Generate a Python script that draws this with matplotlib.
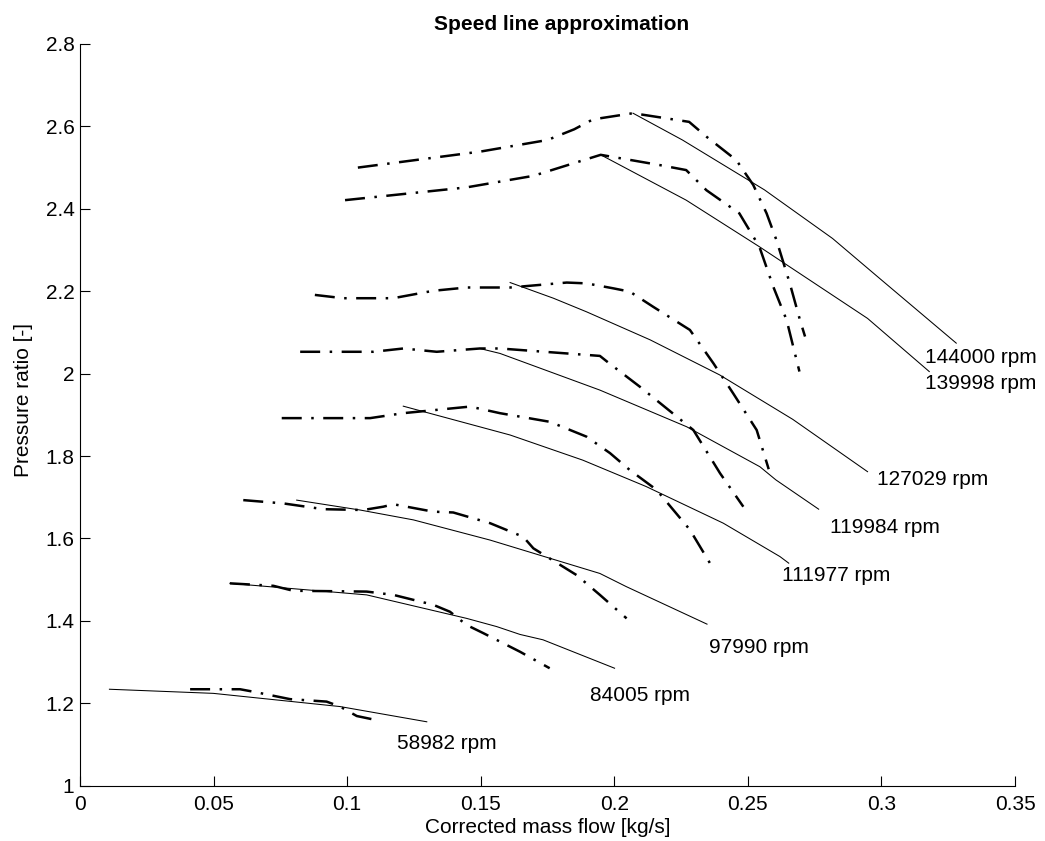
import matplotlib
matplotlib.use('Agg')
from matplotlib import pyplot as plt

plt.rcParams['font.family'] = ['Liberation Sans', 'DejaVu Sans']

# measured speed lines (dash-dot) and fitted approximations (solid)
speeds = ['144000', '139998', '127029', '119984', '111977', '97990', '84005', '58982']

meas_x = {
    '144000': [0.104, 0.150, 0.175, 0.185, 0.192, 0.207, 0.228, 0.2345, 0.2457, 0.252, 0.257, 0.2607, 0.2657, 0.2695, 0.2714],
    '139998': [0.0992, 0.1447, 0.1697, 0.184, 0.1949, 0.2171, 0.2269, 0.2345, 0.2468, 0.2543, 0.2595, 0.2645, 0.2693],
    '127029': [0.0879, 0.0985, 0.1172, 0.1322, 0.1447, 0.161, 0.1822, 0.1896, 0.1996, 0.2058, 0.2146, 0.2283, 0.2371, 0.2445, 0.2533, 0.2578],
    '119984': [0.0824, 0.1098, 0.121, 0.1335, 0.1497, 0.1572, 0.1946, 0.1977, 0.2096, 0.2296, 0.2396, 0.2483],
    '111977': [0.0755, 0.1086, 0.121, 0.146, 0.1572, 0.1759, 0.1896, 0.1984, 0.2058, 0.2158, 0.2283, 0.2358],
    '97990': [0.0611, 0.0761, 0.0911, 0.106, 0.1135, 0.1173, 0.1322, 0.1397, 0.1535, 0.1659, 0.1697, 0.1859, 0.1946, 0.2046],
    '84005': [0.0561, 0.0724, 0.0798, 0.1073, 0.1173, 0.1322, 0.1385, 0.1447, 0.151, 0.1647, 0.1758],
    '58982': [0.0412, 0.0599, 0.0649, 0.0786, 0.0923, 0.0973, 0.1036, 0.111],
}
meas_y = {
    '144000': [2.500, 2.539, 2.567, 2.593, 2.617, 2.632, 2.611, 2.575, 2.518, 2.458, 2.389, 2.324, 2.219, 2.130, 2.090],
    '139998': [2.421, 2.452, 2.480, 2.509, 2.531, 2.506, 2.494, 2.445, 2.389, 2.308, 2.211, 2.130, 2.005],
    '127029': [2.191, 2.183, 2.183, 2.201, 2.209, 2.209, 2.221, 2.219, 2.207, 2.199, 2.162, 2.106, 2.025, 1.952, 1.863, 1.768],
    '119984': [2.053, 2.053, 2.061, 2.053, 2.061, 2.061, 2.043, 2.027, 1.968, 1.863, 1.758, 1.677],
    '111977': [1.892, 1.892, 1.904, 1.920, 1.904, 1.883, 1.847, 1.807, 1.766, 1.718, 1.621, 1.540],
    '97990': [1.693, 1.685, 1.671, 1.669, 1.677, 1.683, 1.665, 1.663, 1.637, 1.604, 1.576, 1.511, 1.463, 1.406],
    '84005': [1.491, 1.485, 1.473, 1.471, 1.463, 1.439, 1.422, 1.390, 1.370, 1.325, 1.285],
    '58982': [1.234, 1.234, 1.228, 1.210, 1.204, 1.192, 1.169, 1.159],
}

fit_x = {
    '144000': [0.207, 0.2255, 0.2562, 0.2817, 0.2986, 0.328],
    '139998': [0.1949, 0.2269, 0.2543, 0.2948, 0.3179],
    '127029': [0.161, 0.1772, 0.1896, 0.2134, 0.2394, 0.2668, 0.2948],
    '119984': [0.1496, 0.1572, 0.1946, 0.2271, 0.2545, 0.2605, 0.2765],
    '111977': [0.121, 0.161, 0.1882, 0.2119, 0.2408, 0.262, 0.2653],
    '97990': [0.0811, 0.1048, 0.1248, 0.1535, 0.1946, 0.2045, 0.2347],
    '84005': [0.0561, 0.1073, 0.1447, 0.156, 0.1647, 0.1733, 0.2001],
    '58982': [0.011, 0.0499, 0.0973, 0.1298],
}
fit_y = {
    '144000': [2.632, 2.567, 2.446, 2.328, 2.235, 2.074],
    '139998': [2.531, 2.421, 2.308, 2.134, 2.005],
    '127029': [2.221, 2.183, 2.150, 2.082, 1.997, 1.889, 1.762],
    '119984': [2.061, 2.049, 1.960, 1.871, 1.774, 1.742, 1.671],
    '111977': [1.921, 1.851, 1.790, 1.726, 1.637, 1.556, 1.540],
    '97990': [1.693, 1.669, 1.645, 1.596, 1.515, 1.483, 1.392],
    '84005': [1.491, 1.463, 1.406, 1.386, 1.367, 1.354, 1.285],
    '58982': [1.234, 1.224, 1.192, 1.155],
}

# label anchor (left, centre) for each speed
label_x = {'144000': 0.3163, '139998': 0.3163, '127029': 0.2984, '119984': 0.2807,
           '111977': 0.2626, '97990': 0.2355, '84005': 0.1909, '58982': 0.1185}
label_y = {'144000': 2.038, '139998': 1.977, '127029': 1.744, '119984': 1.627,
           '111977': 1.511, '97990': 1.335, '84005': 1.220, '58982': 1.103}

xticks = [0, 0.05, 0.1, 0.15, 0.2, 0.25, 0.3, 0.35]
xticklabels = ['0', '0.05', '0.1', '0.15', '0.2', '0.25', '0.3', '0.35']
yticks = [1, 1.2, 1.4, 1.6, 1.8, 2, 2.2, 2.4, 2.6, 2.8]
yticklabels = ['1', '1.2', '1.4', '1.6', '1.8', '2', '2.2', '2.4', '2.6', '2.8']

fig = plt.figure(figsize=(10.45, 8.41), dpi=100)
ax = fig.add_axes([0.0766, 0.0658, 0.8947, 0.8819])

for s in speeds:
    ax.plot(meas_x[s], meas_y[s], color='k', lw=1.8,
            linestyle=(0, (8, 3.8, 1, 3.8)), dash_capstyle='butt')
    ax.plot(fit_x[s], fit_y[s], color='k', lw=0.75)
    ax.text(label_x[s], label_y[s], s + ' rpm', fontsize=15, ha='left', va='center')

ax.set_xlim(0, 0.35)
ax.set_ylim(1, 2.8)
ax.set_xticks(xticks)
ax.set_xticklabels(xticklabels)
ax.set_yticks(yticks)
ax.set_yticklabels(yticklabels)
ax.tick_params(direction='in', length=7, width=0.8, labelsize=15, colors='k')
ax.tick_params(axis='x', pad=7)
ax.tick_params(axis='y', pad=4)
ax.spines['top'].set_visible(False)
ax.spines['right'].set_visible(False)
for sp in ['left', 'bottom']:
    ax.spines[sp].set_linewidth(0.8)

ax.set_xlabel('Corrected mass flow [kg/s]', fontsize=15)
ax.set_ylabel('Pressure ratio [-]', fontsize=15)
ax.yaxis.set_label_coords(-0.05, 0.52)
ax.xaxis.set_label_coords(0.5, -0.044)
ax.set_title('Speed line approximation', fontsize=15, fontweight='bold', x=0.515, y=1.019, pad=0)

plt.savefig('out.png', dpi=100)
